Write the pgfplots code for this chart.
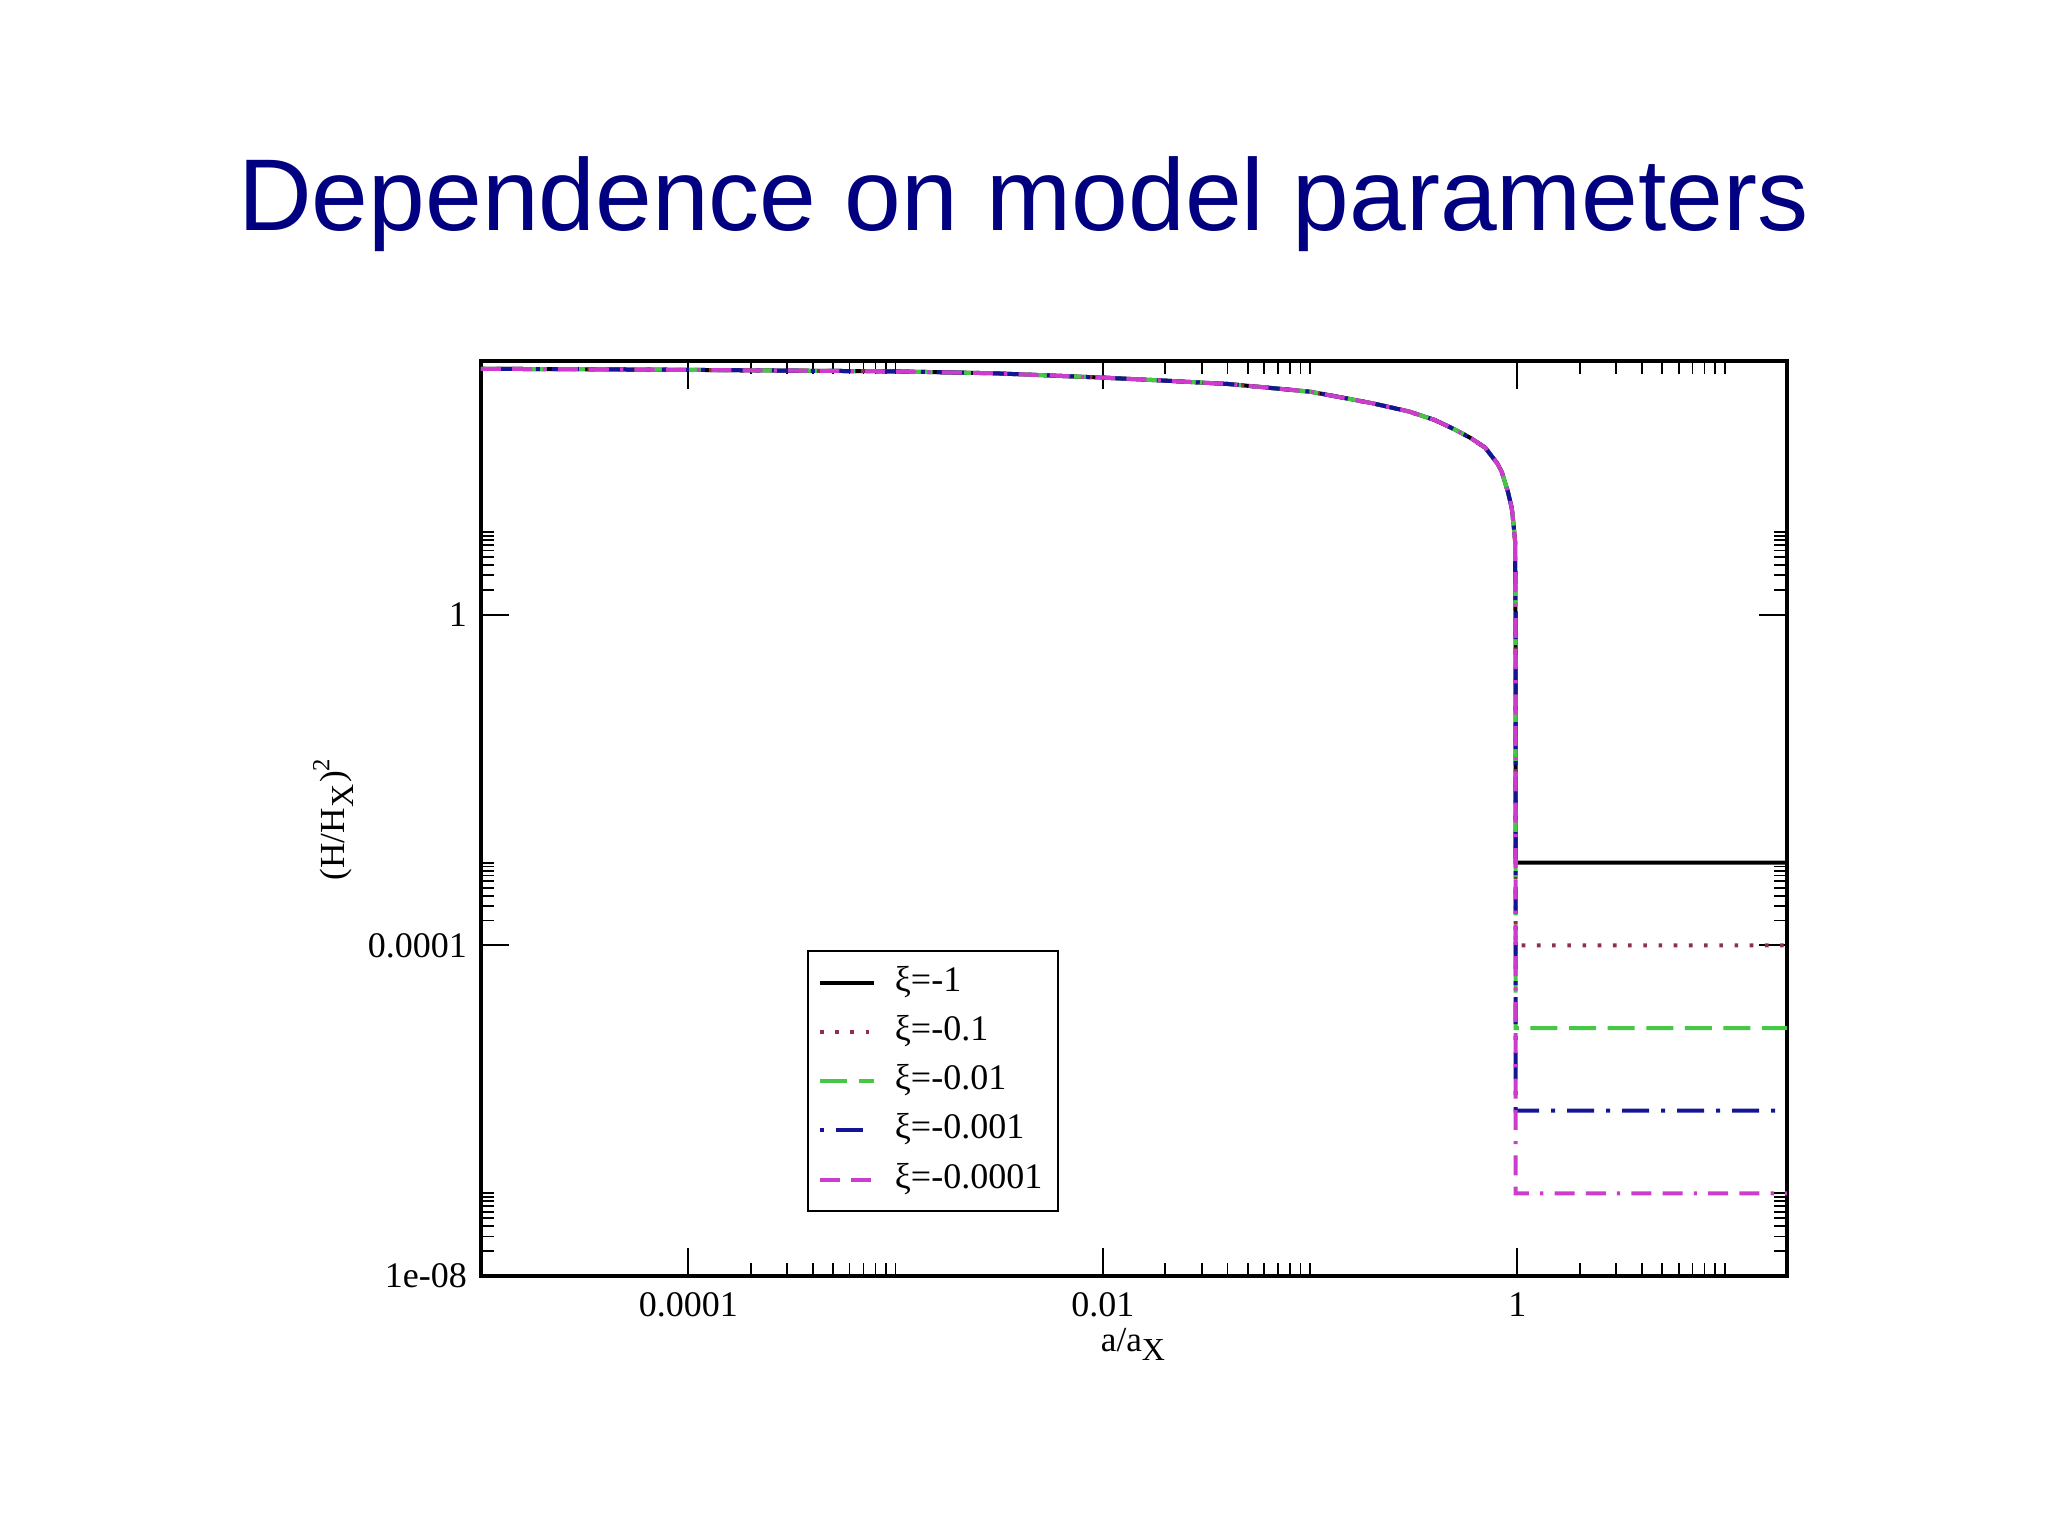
\documentclass[border=0pt]{standalone}
\usepackage{pgfplots}
\pgfplotsset{compat=1.18}
\usepackage{pgfplotstable}
\usepackage{fontspec}
\setmainfont{Liberation Serif}
\newfontfamily\titlefont{Liberation Sans}

\definecolor{titleblue}{RGB}{0,0,128}
\definecolor{xired}{RGB}{140,50,70}
\definecolor{xigreen}{RGB}{70,200,70}
\definecolor{xiblue}{RGB}{20,20,150}
\definecolor{ximag}{RGB}{205,60,205}

% common part of all curves, a/a_X below 1
\pgfplotstableread{
a      H2
1e-5   945
3e-5   935
1e-4   918
3e-4   900
1e-3   880
3e-3   835
1e-2   740
2e-2   680
4e-2   620
6e-2   565
0.1    500
0.15   415
0.2    362
0.3    288
0.4    227
0.5    174
0.6    136
0.7    105
0.8    68
0.84   54
0.9    31
0.94   19.5
0.96   12
0.975  7.8
}\curve

\begin{document}
\begin{tikzpicture}
\path[use as bounding box] (0,0) rectangle (512pt,384pt);
\node[anchor=base, text=titleblue, font=\titlefont\fontsize{25.5}{30}\selectfont]
  at (255.9pt,326.5pt) {Dependence on model parameters};
\begin{axis}[
    at={(120.25pt,65pt)}, anchor=south west,
    scale only axis, width=326.5pt, height=228.75pt,
    xmode=log, ymode=log,
    xmin=1e-5, xmax=20, ymin=1e-8, ymax=1175,
    xtick={1e-4,1e-2,1}, xticklabels={0.0001,0.01,1},
    ytick={1e-8,1e-4,1}, yticklabels={1e-08,0.0001,1},
    minor xtick={2e-4,3e-4,4e-4,5e-4,6e-4,7e-4,8e-4,9e-4,1e-3,
                 2e-2,3e-2,4e-2,5e-2,6e-2,7e-2,8e-2,9e-2,1e-1,
                 2,3,4,5,6,7,8,9,10},
    minor ytick={2e-8,3e-8,4e-8,5e-8,6e-8,7e-8,8e-8,9e-8,1e-7,
                 2e-4,3e-4,4e-4,5e-4,6e-4,7e-4,8e-4,9e-4,1e-3,
                 2,3,4,5,6,7,8,9,10},
    tick align=inside, major tick length=7pt, minor tick length=3.3pt,
    every tick/.style={black, line width=0.45pt},
    axis line style={line width=0.8pt},
    ticklabel style={font=\fontsize{9}{10}\selectfont},
    xticklabel style={yshift=-0.7pt},
    xlabel={a/a\textsubscript{\fontsize{8}{9}\selectfont X}},
    ylabel={(H/H\textsubscript{\fontsize{8}{9}\selectfont X})\textsuperscript{2}},
    xlabel style={at={(rel axis cs:0.5,-0.083)}, anchor=base, font=\fontsize{8.8}{10}\selectfont},
    ylabel style={at={(rel axis cs:-0.1133,0.5)}, anchor=center, font=\fontsize{8.8}{10}\selectfont},
    legend cell align=left,
    legend style={at={(rel axis cs:0.2494,0.3563)}, anchor=north west,
        draw=black, line width=0.6pt, inner xsep=2.5pt, inner ysep=2pt,
        row sep=0.5pt, font=\fontsize{9}{10}\selectfont,
        nodes={inner sep=1.5pt, text height=6.5pt, text depth=2.3pt},
        /tikz/every odd column/.append style={column sep=3.25pt}},
    legend image code/.code={\draw[#1] (0pt,0pt) -- (13.5pt,0pt);},
]
% xi = -1
\addplot[black, line width=1pt, forget plot] table[x=a, y=H2] {\curve};
\addplot[black, line width=1pt] coordinates {
(0.975,7.8) (0.98,1) (0.982,1e-3) (20,1e-3)
};
% xi = -0.1
\addplot[xired, line width=1pt, dash pattern=on 0.9pt off 2.9pt, forget plot] table[x=a, y=H2] {\curve};
\addplot[xired, line width=1pt, dash pattern=on 0.9pt off 2.9pt] coordinates {
(0.975,7.8) (0.98,1) (0.982,1e-4) (20,1e-4)
};
% xi = -0.01
\addplot[xigreen, line width=1pt, dash pattern=on 6.75pt off 2.9pt, forget plot] table[x=a, y=H2] {\curve};
\addplot[xigreen, line width=1pt, dash pattern=on 6.75pt off 2.9pt] coordinates {
(0.975,7.8) (0.98,1) (0.982,1e-5) (20,1e-5)
};
% xi = -0.001
\addplot[xiblue, line width=1pt, dash pattern=on 1pt off 3pt on 6.75pt off 3pt, forget plot] table[x=a, y=H2] {\curve};
\addplot[xiblue, line width=1pt, dash pattern=on 1pt off 3pt on 6.75pt off 3pt] coordinates {
(0.975,7.8) (0.98,1) (0.982,1e-6) (20,1e-6)
};
% xi = -0.0001
\addplot[ximag, line width=1pt, dash pattern=on 5pt off 2.8pt on 5pt off 2.8pt on 0.8pt off 2.8pt, forget plot] table[x=a, y=H2] {\curve};
\addplot[ximag, line width=1pt, dash pattern=on 5pt off 2.8pt on 5pt off 2.8pt on 0.8pt off 2.8pt] coordinates {
(0.975,7.8) (0.98,1) (0.982,1e-7) (20,1e-7)
};
\legend{ξ=-1,ξ=-0.1,ξ=-0.01,ξ=-0.001,ξ=-0.0001}
\end{axis}
\end{tikzpicture}
\end{document}
